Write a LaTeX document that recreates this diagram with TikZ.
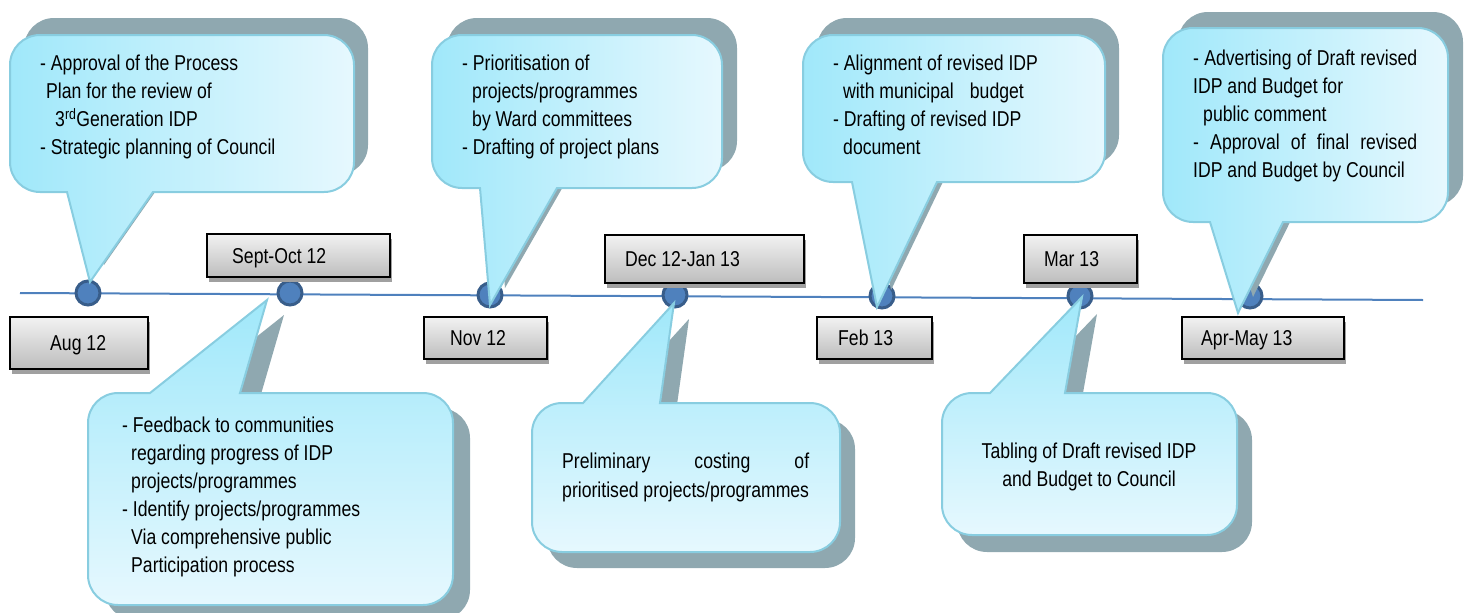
\documentclass[tikz,border=0pt]{standalone}
\usepackage{fontspec}
\setmainfont{Liberation Sans}[FakeStretch=0.82]
\usetikzlibrary{shadows}
\definecolor{bubcyan}{HTML}{A0E8FA}
\definecolor{bubpale}{HTML}{E6F8FE}
\definecolor{bubedge}{HTML}{88CDE0}
\definecolor{bubshadow}{HTML}{8FA8B0}
\definecolor{boxlight}{HTML}{F2F2F2}
\definecolor{boxdark}{HTML}{BDBDBD}
\definecolor{boxshadow}{HTML}{A0A0A0}
\definecolor{lineblue}{HTML}{4F81BD}
\definecolor{dotedge}{HTML}{385D8A}

\begin{document}
\begin{tikzpicture}[x=1pt,y=-1pt,font=\fontsize{21.5}{28}\selectfont,
  bubble/.style={draw=bubedge,line width=2pt},
  topfill/.style={left color=bubcyan,right color=bubpale},
  botfill/.style={top color=bubcyan,bottom color=bubpale},
  bubshade/.style={fill=bubshadow},
  datebox/.style={draw=black,line width=1.8pt,top color=boxlight,bottom color=boxdark,
    anchor=north west,inner sep=0pt,
    drop shadow={shadow xshift=2pt,shadow yshift=-5pt,fill=boxshadow,opacity=1}},
  datetxt/.style={anchor=west,inner sep=0pt,text height=15.5pt,text depth=0pt},
  bubtxt/.style={anchor=north west,inner sep=0pt,align=left},
  dot/.style={circle,fill=lineblue,draw=dotedge,line width=3pt,minimum size=24pt,inner sep=0pt}]
\useasboundingbox (0,0) rectangle (1465,613);

\draw[line width=2pt,lineblue] (20,293) -- (1423,300);
\node[dot] (daug) at (88,293) {};
\node[dot] (dsep) at (290,293) {};
\node[dot] (dnov) at (490,295) {};
\node[dot] (ddec) at (675,295) {};
\node[dot] (dfeb) at (882,296) {};
\node[dot] (dmar) at (1080,296) {};
\node[dot] (dapr) at (1250,296) {};

\node[datebox,minimum width=138pt,minimum height=52pt] (aug) at (9,316) {};
\node[datetxt] (augt) at ([xshift=41pt]aug.west) {Aug 12};
\node[datebox,minimum width=183pt,minimum height=43pt] (sep) at (206,233) {};
\node[datetxt] (sept) at ([xshift=26pt]sep.west) {Sept-Oct 12};
\node[datebox,minimum width=123pt,minimum height=42pt] (nov) at (423,316) {};
\node[datetxt] (novt) at ([xshift=27pt]nov.west) {Nov 12};
\node[datebox,minimum width=199pt,minimum height=48pt] (dec) at (604,234) {};
\node[datetxt] (dect) at ([xshift=21pt]dec.west) {Dec 12-Jan 13};
\node[datebox,minimum width=115pt,minimum height=42pt] (feb) at (816,316) {};
\node[datetxt] (febt) at ([xshift=22pt]feb.west) {Feb 13};
\node[datebox,minimum width=113pt,minimum height=48pt] (mar) at (1023,234) {};
\node[datetxt] (mart) at ([xshift=21pt]mar.west) {Mar 13};
\node[datebox,minimum width=162pt,minimum height=42pt] (apr) at (1181,316) {};
\node[datetxt] (aprt) at ([xshift=20pt]apr.west) {Apr-May 13};

\fill[bubshade,shift={(14,-17)}] (67,192) [rounded corners=30pt] -- (10,192) -- (10,35) -- (354,35) -- (354,192) [sharp corners] -- (153,192) -- (90,282) -- cycle;
\draw[bubble,topfill] (67,192) [rounded corners=30pt] -- (10,192) -- (10,35) -- (354,35) -- (354,192) [sharp corners] -- (153,192) -- (90,282) -- cycle;
\node[bubtxt] (augb) at (40,55) {- Approval of the Process\\\hspace*{6pt}Plan for the review of\\\hspace*{15pt}3\textsuperscript{rd}Generation IDP\\- Strategic planning of Council};

\fill[bubshade,shift={(17,15)}] (150,393) [rounded corners=30pt] -- (88,393) -- (88,605) -- (453,605) -- (453,393) [sharp corners] -- (240,393) -- (267,300) -- cycle;
\draw[bubble,botfill] (150,393) [rounded corners=30pt] -- (88,393) -- (88,605) -- (453,605) -- (453,393) [sharp corners] -- (240,393) -- (267,300) -- cycle;
\node[bubtxt] (sepb) at (122,416.5) {- Feedback to communities\\\hspace*{9pt}regarding progress of IDP\\\hspace*{9pt}projects/programmes\\- Identify projects/programmes\\\hspace*{9pt}Via comprehensive public\\\hspace*{9pt}Participation process};

\fill[bubshade,shift={(15,-17)}] (480,188) [rounded corners=30pt] -- (432,188) -- (432,35) -- (722,35) -- (722,188) [sharp corners] -- (557,188) -- (490,305) -- cycle;
\draw[bubble,topfill] (480,188) [rounded corners=30pt] -- (432,188) -- (432,35) -- (722,35) -- (722,188) [sharp corners] -- (557,188) -- (490,305) -- cycle;
\node[bubtxt] (novb) at (462,54.5) {- Prioritisation of\\\hspace*{10pt}projects/programmes\\\hspace*{10pt}by Ward committees\\- Drafting of project plans};

\fill[bubshade,shift={(15,16)}] (583,403) [rounded corners=30pt] -- (532,403) -- (532,552) -- (840,552) -- (840,403) [sharp corners] -- (660,403) -- (674,303) -- cycle;
\draw[bubble,botfill] (583,403) [rounded corners=30pt] -- (532,403) -- (532,552) -- (840,552) -- (840,403) [sharp corners] -- (660,403) -- (674,303) -- cycle;
\node[bubtxt,font=\fontsize{21.5}{29}\selectfont] (decb) at (562,452.5) {\makebox[247pt][s]{Preliminary costing of}\\prioritised projects/programmes};

\fill[bubshade,shift={(14,-17)}] (852,182) [rounded corners=30pt] -- (803,182) -- (803,35) -- (1105,35) -- (1105,182) [sharp corners] -- (937,182) -- (877,307) -- cycle;
\draw[bubble,topfill] (852,182) [rounded corners=30pt] -- (803,182) -- (803,35) -- (1105,35) -- (1105,182) [sharp corners] -- (937,182) -- (877,307) -- cycle;
\node[bubtxt] (febb) at (833,54.5) {- Alignment of revised IDP\\\hspace*{10pt}with municipal\hspace{16pt}budget\\- Drafting of revised IDP\\\hspace*{10pt}document};

\fill[bubshade,shift={(15,17)}] (990,393) [rounded corners=30pt] -- (942,393) -- (942,535) -- (1237,535) -- (1237,393) [sharp corners] -- (1065,393) -- (1082,297) -- cycle;
\draw[bubble,botfill] (990,393) [rounded corners=30pt] -- (942,393) -- (942,535) -- (1237,535) -- (1237,393) [sharp corners] -- (1065,393) -- (1082,297) -- cycle;
\node[anchor=north,inner sep=0pt,align=center] (marb) at (1089,442.6) {Tabling of Draft revised IDP\\and Budget to Council};

\fill[bubshade,shift={(15,-16)}] (1210,222) [rounded corners=30pt] -- (1163,222) -- (1163,28) -- (1448,28) -- (1448,222) [sharp corners] -- (1283,222) -- (1238,313) -- cycle;
\draw[bubble,topfill] (1210,222) [rounded corners=30pt] -- (1163,222) -- (1163,28) -- (1448,28) -- (1448,222) [sharp corners] -- (1283,222) -- (1238,313) -- cycle;
\node[bubtxt] (aprb) at (1193,49.5) {\makebox[224pt][s]{- Advertising of Draft revised}\\IDP and Budget for\\\hspace*{10pt}public comment\\\makebox[224pt][s]{- Approval of final revised}\\IDP and Budget by Council};
\end{tikzpicture}
\end{document}
